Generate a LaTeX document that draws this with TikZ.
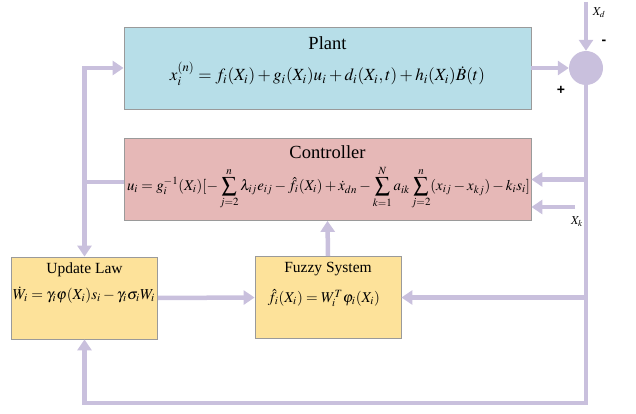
\documentclass[tikz,border=0pt]{standalone}
\usepackage{mathptmx}
\usepackage[no-math]{fontspec}
\setmainfont{Liberation Serif}
\newfontfamily\signfont{Liberation Sans}
\newfontfamily\ttlfont{Liberation Serif}
\usepackage{graphicx}
\usetikzlibrary{arrows.meta}
\definecolor{flow}{HTML}{C9C0DD}
\definecolor{plantfill}{HTML}{B7DEE8}
\definecolor{ctrlfill}{HTML}{E6B8B7}
\definecolor{yfill}{HTML}{FDE29A}
\definecolor{boxline}{HTML}{9A9A9A}
\begin{document}
\begin{tikzpicture}[x=1pt,y=-1pt,
  blk/.style={draw=boxline, line width=0.8pt, inner sep=0pt},
  bigblk/.style={blk, minimum width=407pt, minimum height=82pt},
  smallblk/.style={blk, fill=yfill, minimum width=146pt, minimum height=82pt},
  ttl/.style={inner sep=0pt, font=\ttlfont\fontsize{18.5}{20}\selectfont},
  sttl/.style={inner sep=0pt, font=\ttlfont\fontsize{15.5}{17}\selectfont},
  eqn/.style={inner sep=0pt},
  flowline/.style={draw=flow, line width=4.5pt},
  tip/.tip={Triangle[length=11pt,width=14pt]},
  arr/.style={flowline, -tip},
  sumnode/.style={circle, fill=flow, minimum size=34pt, inner sep=0pt},
  lbl/.style={inner sep=0pt, font=\fontsize{12}{14}\selectfont}]
\useasboundingbox (0,0) rectangle (636,414);

% blocks
\node[bigblk, fill=plantfill] (plant) at (327.5,68) {};
\node[bigblk, fill=ctrlfill] (ctrl) at (327.5,179.5) {};
\node[smallblk] (upd) at (84.5,298) {};
\node[smallblk] (fuzzy) at (328,297.5) {};
\node[sumnode] (sum) at (586,68) {};

% texts
\node[ttl] (plantT) at (327.5,43) {Plant};
\node[eqn] (plantE) at (327.5,74) {\resizebox{315pt}{!}{$x_i^{(n)}=f_i(X_i)+g_i(X_i)u_i+d_i(X_i,t)+h_i(X_i)\dot{B}(t)$}};
\node[ttl] (ctrlT) at (327.5,152) {Controller};
\node[eqn] (ctrlE) at (328.5,188) {\resizebox{403pt}{!}{$\displaystyle u_i=g_i^{-1}(X_i)[-\sum_{j=2}^{n}\lambda_{ij}e_{ij}-\hat{f}_i(X_i)+\dot{x}_{dn}-\sum_{k=1}^{N}a_{ik}\sum_{j=2}^{n}(x_{ij}-x_{kj})-k_is_i]$}};
\node[sttl] (updT) at (84.5,270) {Update Law};
\node[eqn] (updE) at (84,295) {\resizebox{142pt}{!}{$\dot{W}_i=\gamma_i\varphi(X_i)s_i-\gamma_i\sigma_iW_i$}};
\node[sttl] (fuzT) at (328,269) {Fuzzy System};
\node[eqn] (fuzE) at (324,298) {\resizebox{112pt}{!}{$\hat{f}_i(X_i)=W_i^T\varphi_i(X_i)$}};

\node[lbl] (xd) at (599,13) {$X_d$};
\node[lbl] (xk) at (577,222) {$X_k$};
\node[inner sep=0pt, font=\signfont\bfseries\fontsize{14}{14}\selectfont] (minus) at (604,42) {-};
\node[inner sep=0pt, font=\signfont\bfseries\fontsize{14}{14}\selectfont] (plus) at (561,90) {+};

% junction coordinates
\coordinate (xdtop) at (586,2);
\coordinate (br) at (586,403);
\coordinate (bl) at (84.5,403);
\coordinate (jc) at (586,179.5);
\coordinate (jf) at (586,297.5);
\coordinate (xks) at (575,207);
\coordinate (lt) at (84.5,68);
\coordinate (lj) at (84.5,182);

% connectors
\draw[arr] (plant.east) -- (sum.west);
\draw[arr] (xdtop) -- (sum.north);
\draw[arr] (sum.south) -- (br) -- (bl) -- (upd.south);
\draw[arr] (jc) -- (ctrl.east);
\draw[arr] (xks) -- (ctrl.east |- xks);
\draw[arr] (jf) -- (fuzzy.east);
\draw[arr] (upd.east) -- (fuzzy.west);
\draw[arr] (fuzzy.north) -- (ctrl.south);
\draw[flowline, tip-tip] (upd.north) -- (lt) -- (plant.west);
\draw[flowline] (ctrl.west |- lj) -- (lj);
\end{tikzpicture}
\end{document}
